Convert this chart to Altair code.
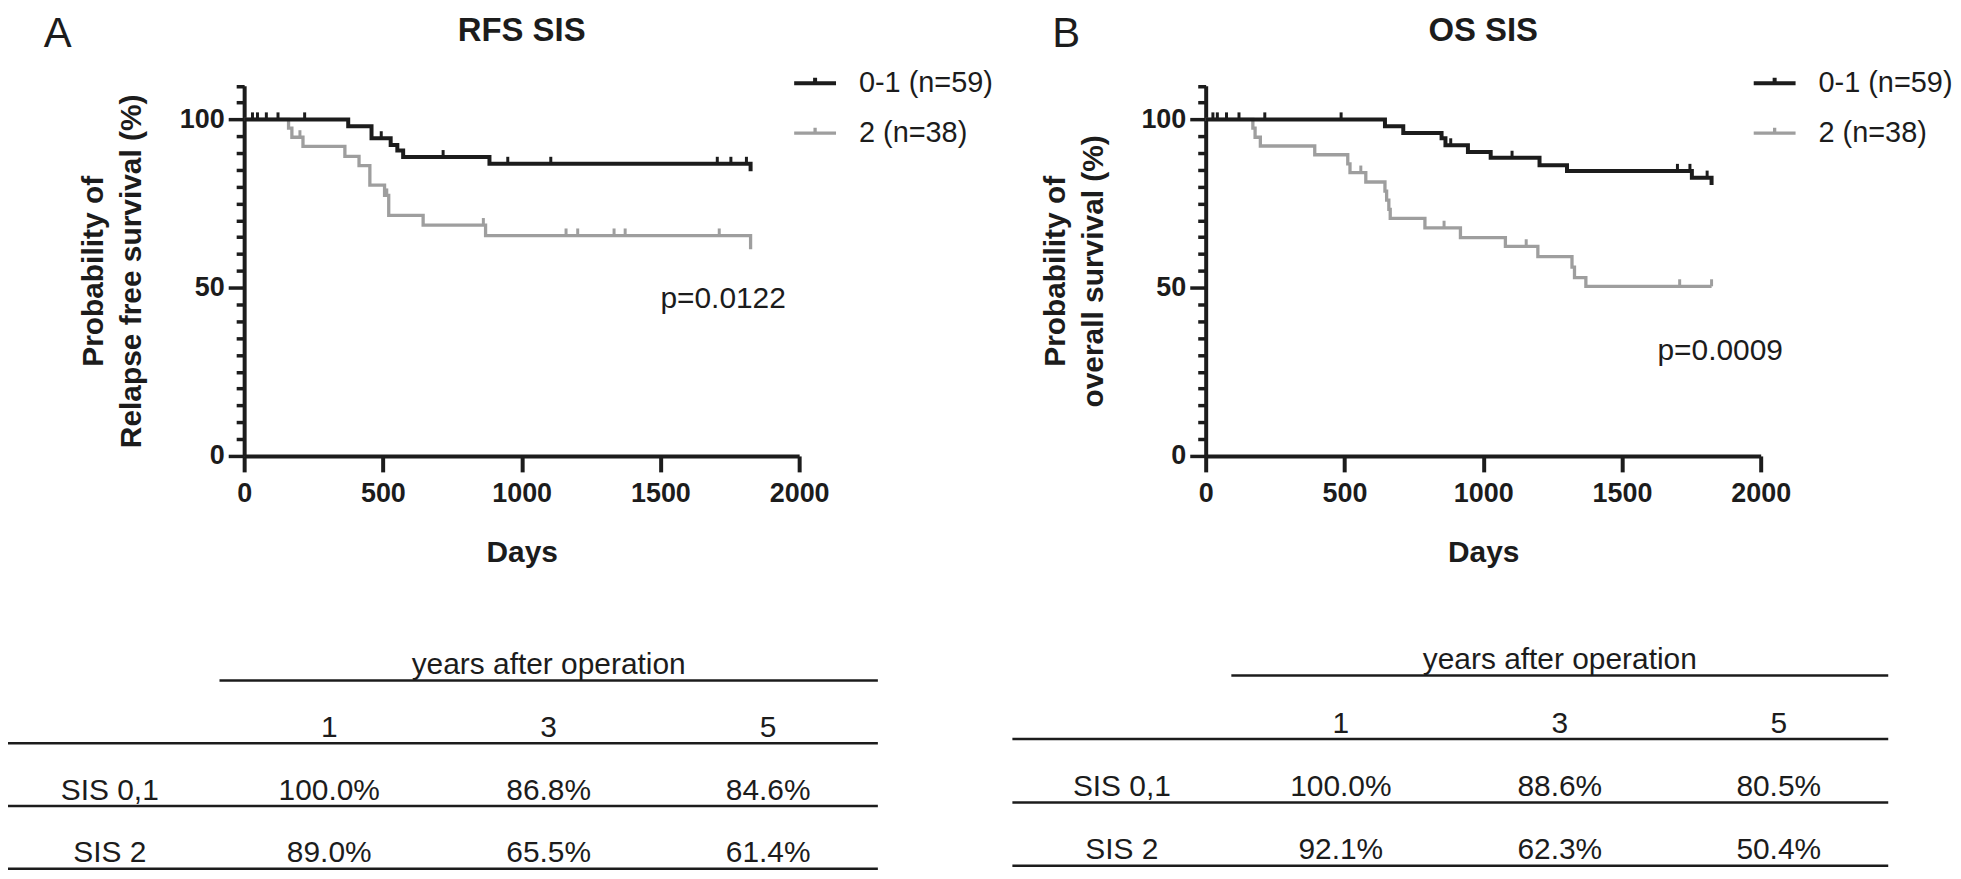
import altair as alt
import pandas as pd

# ---------------- data ----------------
GROUPS = ["0-1 (n=59)", "2 (n=38)"]
COLORS = ["#1c1c1c", "#9e9e9e"]

# Panel A: relapse free survival, SIS 0-1 (black) and SIS 2 (grey)
rfs_low_t = [0, 375, 459, 528, 552, 573, 884, 1825]
rfs_low_s = [100, 98.0, 94.4, 92.4, 90.8, 88.8, 86.8, 84.6]
rfs_low_cens = [30, 48, 80, 122, 218, 494, 717, 950, 1105, 1705, 1754, 1810]
rfs_high_t = [0, 160, 172, 212, 363, 414, 453, 506, 521, 645, 870, 1825]
rfs_high_s = [100, 97.4, 94.7, 92.0, 89.0, 86.3, 80.5, 77.4, 71.5, 68.6, 65.5, 61.4]
rfs_high_cens = [201, 514, 862, 1160, 1202, 1333, 1373, 1712]

# Panel B: overall survival
os_low_t = [0, 646, 712, 850, 864, 945, 1027, 1203, 1302, 1752, 1823]
os_low_s = [100, 98.0, 96.0, 94.4, 92.3, 90.3, 88.6, 86.4, 84.7, 82.7, 80.5]
os_low_cens = [26, 42, 75, 120, 213, 488, 883, 1104, 1700, 1745, 1807]
os_high_t = [0, 170, 178, 197, 393, 512, 520, 577, 646, 652, 660, 665, 790, 918,
             1080, 1197, 1320, 1329, 1370, 1823]
os_high_s = [100, 97.4, 94.7, 92.1, 89.5, 86.8, 84.2, 81.4, 78.7, 76.0, 73.3, 70.6,
             67.8, 64.9, 62.3, 59.2, 56.1, 53.0, 50.4, 50.4]
os_high_cens = [559, 859, 1155, 1708, 1823]

P_TEXT = ["p=0.0122", "p=0.0009"]
P_POS_T = [1500, 1628]
P_POS_S = [44.0, 28.4]

PANEL_TITLES = ["RFS SIS", "OS SIS"]
PANEL_LETTERS = ["A", "B"]
Y_TITLES = [["Probability of", "Relapse free survival (%)"],
            ["Probability of", "overall survival (%)"]]

YEARS = ["1", "3", "5"]
ROW_LABELS = ["SIS 0,1", "SIS 2"]
rfs_table = [["100.0%", "86.8%", "84.6%"], ["89.0%", "65.5%", "61.4%"]]
os_table = [["100.0%", "88.6%", "80.5%"], ["92.1%", "62.3%", "50.4%"]]
TABLE_HEADER = "years after operation"

# ---------------- style ----------------
FONT = "Liberation Sans"
INK = "#1c1c1c"
W, H = 1952, 863


def level_at(times, surv, t):
    val = surv[0]
    for ti, si in zip(times, surv):
        if ti <= t:
            val = si
        else:
            break
    return val


def curves_df(lt, ls, ht, hs):
    rows = [{"t": t, "s": s, "group": GROUPS[1]} for t, s in zip(ht, hs)]
    rows += [{"t": t, "s": s, "group": GROUPS[0]} for t, s in zip(lt, ls)]
    return pd.DataFrame(rows)


def cens_df(lt, ls, lc, ht, hs, hc):
    rows = [{"t": c, "s": level_at(ht, hs, c), "group": GROUPS[1]} for c in hc]
    rows += [{"t": c, "s": level_at(lt, ls, c), "group": GROUPS[0]} for c in lc]
    return pd.DataFrame(rows)


def km_panel(cdf, zdf, idx, xrange, yoffset, legend_x):
    xs = alt.Scale(domain=[0, 2000], range=xrange, nice=False, zero=False)
    ys = alt.Scale(domain=[0, 110], range=[448, 76.5], nice=False, zero=False)
    xaxis = alt.Axis(
        title="Days", orient="bottom", offset=-415, values=[0, 500, 1000, 1500, 2000],
        format="d", grid=False, domainWidth=4, domainColor=INK, tickWidth=4,
        tickColor=INK, tickSize=16, labelFont=FONT, labelFontSize=27,
        labelFontWeight="bold", labelColor=INK, labelPadding=9, labelFlush=False,
        labelOverlap=False, titleFont=FONT, titleFontSize=30, titleFontWeight="bold",
        titleColor=INK, titlePadding=31)
    yaxis = alt.Axis(
        title=Y_TITLES[idx], orient="left", offset=yoffset,
        values=list(range(0, 111, 5)), format="d",
        labelExpr="datum.value % 50 === 0 ? datum.label : ''",
        tickSize={"condition": {"test": "datum.value % 50 === 0", "value": 16}, "value": 8},
        grid=False, domainWidth=4, domainColor=INK, tickWidth=3.5, tickColor=INK,
        labelFont=FONT, labelFontSize=27, labelFontWeight="bold", labelColor=INK,
        labelPadding=4, labelFlush=False, labelOverlap=False, titleFont=FONT,
        titleFontSize=30, titleFontWeight="bold", titleColor=INK, titlePadding=33,
        titleLineHeight=38)
    X = alt.X("t:Q", scale=xs, axis=xaxis)
    Y = alt.Y("s:Q", scale=ys, axis=yaxis)
    C = alt.Color("group:N", scale=alt.Scale(domain=GROUPS, range=COLORS),
                  legend=alt.Legend(
                      title=None, orient="none", legendX=legend_x, legendY=51,
                      direction="vertical", symbolType="M-1,0L1,0M0,0L0,-0.26",
                      symbolSize=1764, symbolStrokeWidth=3.5, labelFont=FONT,
                      labelFontSize=29, labelColor=INK, labelOffset=21,
                      rowPadding=12, padding=0))
    SW = alt.StrokeWidth("group:N", scale=alt.Scale(domain=GROUPS, range=[4.0, 3.3]),
                         legend=None)

    lines = alt.Chart(cdf).mark_line(interpolate="step-after").encode(X, Y, C, SW)
    cens = alt.Chart(zdf).mark_point(
        shape="M0,0L0,-1", size=200, filled=False, strokeWidth=3, opacity=1
    ).encode(X, Y, C)
    pdf = pd.DataFrame({"t": [P_POS_T[idx]], "s": [P_POS_S[idx]], "label": [P_TEXT[idx]]})
    ptxt = alt.Chart(pdf).mark_text(
        font=FONT, fontSize=30, align="left", baseline="alphabetic", color=INK
    ).encode(X, Y, text="label:N")
    tdf = pd.DataFrame({"t": [1000], "label": [PANEL_TITLES[idx]]})
    title = alt.Chart(tdf).mark_text(
        font=FONT, fontSize=33, fontWeight="bold", align="center",
        baseline="alphabetic", color=INK
    ).encode(X, y=alt.value(32), text="label:N")
    return alt.layer(lines, cens, ptxt, title)


def table_panel(values, xrange, yrange):
    cells = [{"col": 2.5, "row": 0, "text": TABLE_HEADER}]
    for j, yr in enumerate(YEARS):
        cells.append({"col": 1.5 + j, "row": 1, "text": yr})
    for i, lab in enumerate(ROW_LABELS):
        cells.append({"col": 0.5, "row": 2 + i, "text": lab})
        for j, v in enumerate(values[i]):
            cells.append({"col": 1.5 + j, "row": 2 + i, "text": v})
    rules = pd.DataFrame({"x0": [1, 0, 0, 0], "x1": [4, 4, 4, 4], "row": [0, 1, 2, 3]})
    xs = alt.Scale(domain=[0, 4], range=xrange, nice=False, zero=False)
    ys = alt.Scale(domain=[0, 3], range=yrange, nice=False, zero=False)
    txt = alt.Chart(pd.DataFrame(cells)).mark_text(
        font=FONT, fontSize=30, color=INK, align="center", baseline="alphabetic"
    ).encode(x=alt.X("col:Q", scale=xs, axis=None),
             y=alt.Y("row:Q", scale=ys, axis=None), text="text:N")
    rl = alt.Chart(rules).transform_calculate(ry="datum.row + 0.1").mark_rule(
        strokeWidth=2.5, color=INK
    ).encode(x=alt.X("x0:Q", scale=xs, axis=None), x2="x1:Q",
             y=alt.Y("ry:Q", scale=ys, axis=None))
    return alt.layer(rl, txt)


panelA = km_panel(curves_df(rfs_low_t, rfs_low_s, rfs_high_t, rfs_high_s),
                  cens_df(rfs_low_t, rfs_low_s, rfs_low_cens,
                          rfs_high_t, rfs_high_s, rfs_high_cens),
                  0, [237, 794], -237, 787)
panelB = km_panel(curves_df(os_low_t, os_low_s, os_high_t, os_high_s),
                  cens_df(os_low_t, os_low_s, os_low_cens,
                          os_high_t, os_high_s, os_high_cens),
                  1, [1202, 1759], -1202, 1750)

tableA = table_panel(rfs_table, [-8, 873], [667, 856])
tableB = table_panel(os_table, [1008, 1887], [662, 853])

ldf = pd.DataFrame({"pos": [0, 1], "label": PANEL_LETTERS})
letters = alt.Chart(ldf).mark_text(
    font=FONT, fontSize=42, align="left", baseline="alphabetic", color=INK
).encode(x=alt.X("pos:Q", scale=alt.Scale(domain=[0, 1], range=[36, 1048], nice=False),
                 axis=None),
         y=alt.value(38), text="label:N")

chart = alt.layer(panelA, panelB, tableA, tableB, letters).resolve_scale(
    x="independent", y="independent", color="independent", strokeWidth="independent"
).resolve_axis(x="independent", y="independent").resolve_legend(
    color="independent"
).properties(
    width=W, height=H, padding=0, autosize=alt.AutoSizeParams(type="none"),
    background="white"
).configure_view(strokeWidth=0)

chart.save("out.html", embed_options={"renderer": "svg", "actions": False})
